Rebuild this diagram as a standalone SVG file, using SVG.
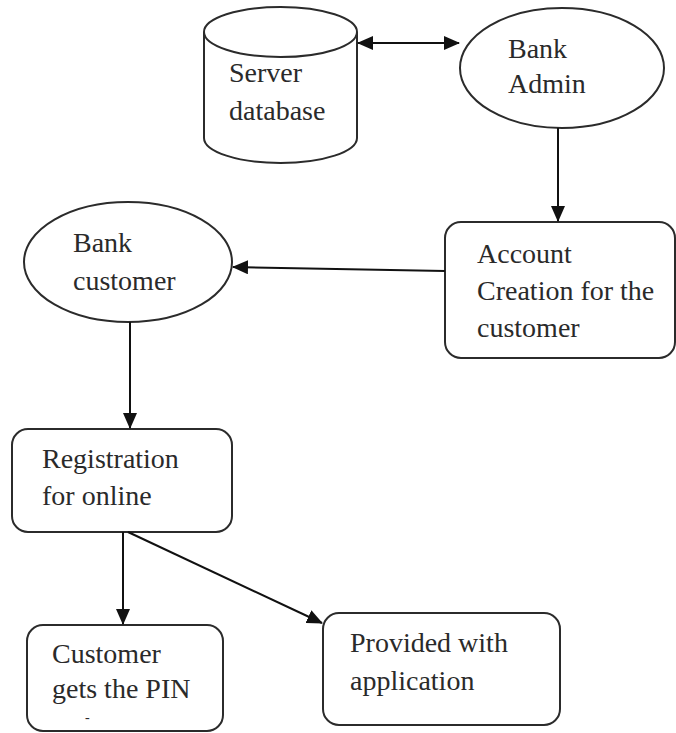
<svg xmlns="http://www.w3.org/2000/svg" width="676" height="733" viewBox="0 0 676 733">
<style>
.s{fill:#fff;stroke:#2b2b2b;stroke-width:2}
.t{font-family:"Liberation Serif",serif;font-size:28px;fill:#2a2a2a}
.c{stroke:#111;stroke-width:2;fill:none}
</style>
<defs>
<marker id="as" markerWidth="16" markerHeight="14" refX="15" refY="7" orient="auto-start-reverse" markerUnits="userSpaceOnUse" viewBox="0 0 16 14">
<path d="M0,0 L16,7 L0,14 z" fill="#111"/>
</marker>
</defs>
<rect width="676" height="733" fill="#fff"/>
<g id="server-database">
<path class="s" d="M204,32 L204,138 A76.5,25 0 0 0 357,138 L357,32"/>
<ellipse class="s" cx="280.5" cy="32" rx="76.5" ry="25"/>
<text class="t" x="229" y="82">Server</text>
<text class="t" x="229" y="120">database</text>
</g>
<g id="bank-admin">
<ellipse class="s" cx="562" cy="68" rx="102" ry="60"/>
<text class="t" x="508" y="58">Bank</text>
<text class="t" x="508" y="93">Admin</text>
</g>
<g id="account-creation">
<rect class="s" x="445" y="222" width="230" height="136" rx="16"/>
<text class="t" x="477" y="263">Account</text>
<text class="t" x="477" y="300">Creation for the</text>
<text class="t" x="477" y="337">customer</text>
</g>
<g id="bank-customer">
<ellipse class="s" cx="128" cy="262" rx="104" ry="60"/>
<text class="t" x="73" y="252">Bank</text>
<text class="t" x="73" y="290">customer</text>
</g>
<g id="registration">
<rect class="s" x="12" y="429" width="220" height="103" rx="16"/>
<text class="t" x="42" y="468">Registration</text>
<text class="t" x="42" y="505">for online</text>
</g>
<g id="customer-pin">
<rect class="s" x="27" y="625" width="196" height="106" rx="16"/>
<text class="t" x="52" y="663">Customer</text>
<text class="t" x="52" y="698">gets the PIN</text>
<text class="t" x="85" y="722" style="font-size:14px">-</text>
</g>
<g id="provided-application">
<rect class="s" x="323" y="613" width="237" height="112" rx="16"/>
<text class="t" x="350" y="652">Provided with</text>
<text class="t" x="350" y="690">application</text>
</g>
<g id="connectors">
<line class="c" x1="358" y1="43" x2="459" y2="43" marker-start="url(#as)" marker-end="url(#as)"/>
<line class="c" x1="558" y1="128" x2="558" y2="221" marker-end="url(#as)"/>
<line class="c" x1="445" y1="271" x2="233" y2="267" marker-end="url(#as)"/>
<line class="c" x1="130" y1="322" x2="130" y2="428" marker-end="url(#as)"/>
<line class="c" x1="123" y1="532" x2="123" y2="624" marker-end="url(#as)"/>
<line class="c" x1="128" y1="532" x2="322" y2="623" marker-end="url(#as)"/>
</g>
</svg>
